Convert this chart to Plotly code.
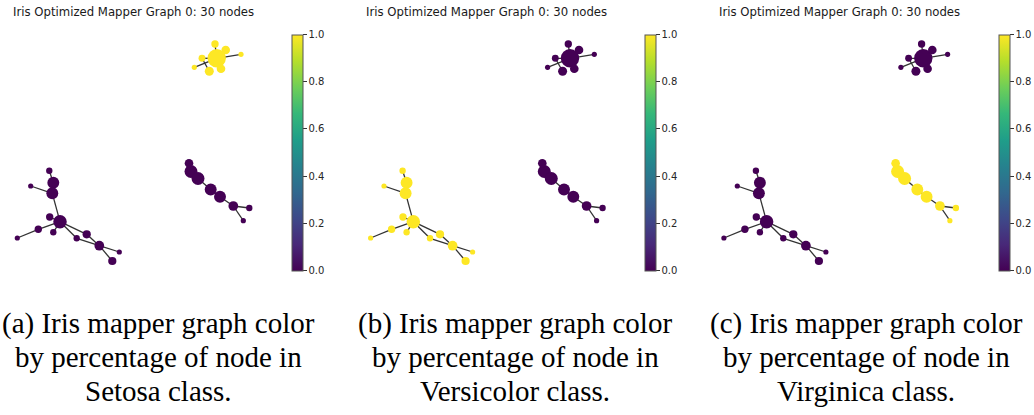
import math
import plotly.graph_objects as go

W, H = 1034, 415

# Mapper graph: node layout coordinates (arbitrary layout units), node sizes
# (number of member samples) and edges between overlapping nodes.
node_x = [0.837, 0.82, 0.927, 1.08, 0.69, 0.613, 0.763, 0.88,
          0.56, 0.58, 0.65, 0.777, 0.87, 1.003, 1.163, 1.103,
          -0.837, -0.797, -0.807, -1.023, -0.73, -0.833, -0.797, -0.947,
          -1.157, -0.463, -0.563, -0.337, -0.137, -0.207]
node_y = [0.917, 1.06, 1.0, 0.957, 0.917, 0.827, 0.787, 0.813,
          -0.133, -0.215, -0.285, -0.395, -0.467, -0.56, -0.58, -0.707,
          -0.207, -0.327, -0.433, -0.36, -0.717, -0.67, -0.823, -0.793,
          -0.88, -0.843, -0.883, -0.957, -1.02, -1.11]
node_members = [50, 8, 11, 4, 7, 4, 12, 11,
                11, 25, 25, 21, 21, 14, 6, 4,
                6, 21, 21, 4, 27, 8, 6, 8,
                4, 10, 6, 14, 4, 10]
edges = [(0, 1), (0, 2), (0, 3), (0, 7), (0, 5), (4, 6), (0, 4),
         (8, 9), (9, 10), (10, 11), (11, 12), (12, 13), (13, 14), (13, 15),
         (16, 17), (17, 18), (19, 18), (18, 20), (20, 21), (20, 22), (20, 23),
         (23, 24), (20, 25), (20, 26), (25, 27), (26, 27), (27, 28), (27, 29)]

# Fraction of each node's members belonging to each class
setosa_pct = [1] * 8 + [0] * 8 + [0] * 14
versicolor_pct = [0] * 8 + [0] * 8 + [1] * 14
virginica_pct = [0] * 8 + [1] * 8 + [0] * 14

panel_values = [setosa_pct, versicolor_pct, virginica_pct]
panel_title = "Iris Optimized Mapper Graph 0: 30 nodes"
captions = [
    ["(a) Iris mapper graph color", "by percentage of node in", "Setosa class."],
    ["(b) Iris mapper graph color", "by percentage of node in", "Versicolor class."],
    ["(c) Iris mapper graph color", "by percentage of node in", "Virginica class."],
]
cbar_ticks = [0.0, 0.2, 0.4, 0.6, 0.8, 1.0]

# Panel geometry (pixels)
panel_step = 353.3
ox, oy, scale = 133.0, 150.0, 100.0   # layout origin and pixels per layout unit
ax_left, ax_right, ax_top, ax_bottom = 5, 275, 28, 278
caption_centers = [158, 515, 866]
caption_baselines = [323.5, 357.0, 391.0]

fig = go.Figure()
layout_axes = {}
annotations = []

for p, values in enumerate(panel_values):
    off = p * panel_step
    suffix = "" if p == 0 else str(p + 1)
    xa, ya = "x" + suffix, "y" + suffix

    # Edges
    ex, ey = [], []
    for a, b in edges:
        ex += [node_x[a], node_x[b], None]
        ey += [node_y[a], node_y[b], None]
    fig.add_trace(go.Scatter(x=ex, y=ey, mode="lines", xaxis=xa, yaxis=ya,
                             line=dict(color="#333333", width=1.3),
                             hoverinfo="skip", showlegend=False))

    # Nodes, drawn largest first so small ones stay visible
    order = sorted(range(len(node_x)), key=lambda i: -node_members[i])
    fig.add_trace(go.Scatter(
        x=[node_x[i] for i in order], y=[node_y[i] for i in order],
        mode="markers", xaxis=xa, yaxis=ya, showlegend=False,
        marker=dict(
            size=[2.6 * math.sqrt(node_members[i]) for i in order],
            color=[values[i] for i in order],
            colorscale="Viridis", cmin=0, cmax=1,
            opacity=1,
            line=dict(width=0),
            showscale=True,
            colorbar=dict(
                x=(off + 292) / W, xanchor="left", xpad=0,
                y=(H - 34.5) / H, yanchor="top", ypad=0,
                len=236, lenmode="pixels",
                thickness=11, thicknessmode="pixels",
                outlinewidth=1, outlinecolor="#555555",
                tickmode="array", tickvals=cbar_ticks,
                ticktext=[f"{t:.1f}" for t in cbar_ticks],
                ticks="outside", ticklen=3.5, tickwidth=1, tickcolor="#333333",
                tickfont=dict(family="DejaVu Sans", size=10, color="#262626"),
            ),
        ),
    ))

    x0, x1 = off + ax_left, off + ax_right
    layout_axes["xaxis" + suffix] = dict(
        domain=[x0 / W, x1 / W],
        range=[(ax_left - ox) / scale, (ax_right - ox) / scale],
        visible=False, fixedrange=True, anchor=ya)
    layout_axes["yaxis" + suffix] = dict(
        domain=[(H - ax_bottom) / H, (H - ax_top) / H],
        range=[(oy - ax_bottom) / scale, (oy - ax_top) / scale],
        visible=False, fixedrange=True, anchor=xa)

    annotations.append(dict(
        text=panel_title, x=(off + 133.3) / W, y=(H - 12) / H,
        xref="paper", yref="paper", xanchor="center", yanchor="middle",
        showarrow=False,
        font=dict(family="DejaVu Sans", size=11.7, color="#1a1a1a")))

    for line, yb in zip(captions[p], caption_baselines):
        annotations.append(dict(
            text=line, x=caption_centers[p] / W, y=(H - yb) / H,
            xref="paper", yref="paper", xanchor="center", yanchor="middle",
            showarrow=False,
            font=dict(family="Liberation Serif", size=29, color="black")))

fig.update_layout(
    width=W, height=H,
    margin=dict(l=0, r=0, t=0, b=0),
    paper_bgcolor="white", plot_bgcolor="white",
    annotations=annotations,
    **layout_axes,
)

fig.write_html("out.html")
